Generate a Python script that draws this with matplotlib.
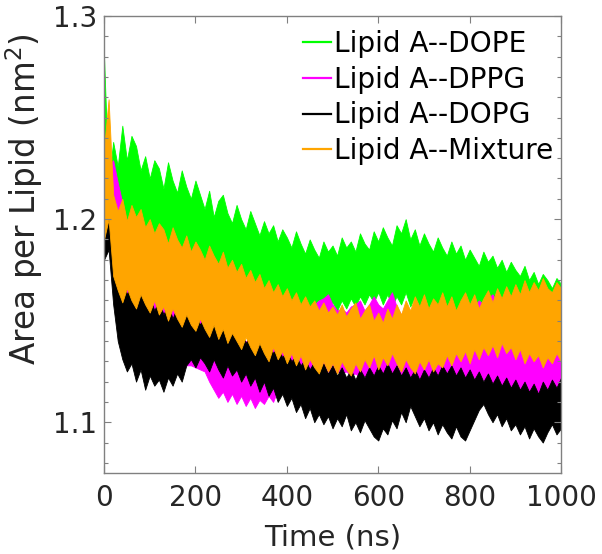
import matplotlib
matplotlib.use('Agg')
import matplotlib.pyplot as plt
from matplotlib.lines import Line2D
from matplotlib.ticker import MultipleLocator

# sampling grid of the trajectories (ns)
time_ns = list(range(0, 1001, 10))

# upper / lower edge of each noisy trace (nm^2)
dope_hi = [1.280, 1.218, 1.238, 1.226, 1.246, 1.229, 1.241, 1.236, 1.224, 1.231,
           1.220, 1.229, 1.225, 1.215, 1.228, 1.219, 1.213, 1.224, 1.216, 1.210,
           1.219, 1.212, 1.205, 1.214, 1.201, 1.209, 1.212, 1.203, 1.198, 1.207,
           1.200, 1.195, 1.204, 1.198, 1.192, 1.199, 1.193, 1.197, 1.189, 1.195,
           1.191, 1.186, 1.194, 1.188, 1.183, 1.190, 1.185, 1.181, 1.189, 1.184,
           1.187, 1.182, 1.191, 1.186, 1.189, 1.184, 1.193, 1.188, 1.185, 1.194,
           1.189, 1.196, 1.191, 1.187, 1.197, 1.193, 1.200, 1.190, 1.195, 1.187,
           1.193, 1.188, 1.184, 1.191, 1.186, 1.182, 1.189, 1.183, 1.187, 1.180,
           1.185, 1.181, 1.177, 1.184, 1.179, 1.182, 1.176, 1.180, 1.174, 1.179,
           1.175, 1.172, 1.177, 1.170, 1.174, 1.168, 1.173, 1.170, 1.166, 1.171,
           1.168]
dope_lo = [1.240, 1.195, 1.200, 1.195, 1.205, 1.198, 1.200, 1.192, 1.198, 1.190,
           1.192, 1.186, 1.190, 1.184, 1.186, 1.180, 1.184, 1.178, 1.182, 1.176,
           1.178, 1.174, 1.177, 1.171, 1.175, 1.170, 1.173, 1.168, 1.171, 1.166,
           1.169, 1.164, 1.167, 1.162, 1.166, 1.161, 1.165, 1.160, 1.163, 1.159,
           1.162, 1.158, 1.161, 1.157, 1.160, 1.156, 1.159, 1.155, 1.158, 1.156,
           1.159, 1.155, 1.160, 1.156, 1.161, 1.157, 1.162, 1.158, 1.163, 1.159,
           1.164, 1.158, 1.163, 1.157, 1.162, 1.158, 1.164, 1.157, 1.162, 1.156,
           1.160, 1.155, 1.159, 1.154, 1.158, 1.153, 1.157, 1.152, 1.156, 1.151,
           1.155, 1.151, 1.154, 1.150, 1.153, 1.149, 1.152, 1.148, 1.151, 1.147,
           1.150, 1.147, 1.150, 1.146, 1.149, 1.146, 1.149, 1.145, 1.148, 1.145,
           1.148]

dppg_hi = [1.210, 1.226, 1.229, 1.218, 1.208, 1.198, 1.190, 1.185, 1.180, 1.176,
           1.172, 1.170, 1.168, 1.165, 1.163, 1.161, 1.160, 1.158, 1.156, 1.155,
           1.153, 1.152, 1.150, 1.148, 1.147, 1.145, 1.144, 1.143, 1.142, 1.141,
           1.140, 1.140, 1.139, 1.139, 1.138, 1.138, 1.140, 1.142, 1.144, 1.146,
           1.148, 1.150, 1.152, 1.154, 1.156, 1.157, 1.158, 1.160, 1.161, 1.163,
           1.158, 1.155, 1.156, 1.154, 1.157, 1.158, 1.160, 1.155, 1.158, 1.162,
           1.158, 1.156, 1.160, 1.164, 1.157, 1.153, 1.156, 1.154, 1.155, 1.152,
           1.154, 1.153, 1.155, 1.152, 1.154, 1.153, 1.155, 1.152, 1.154, 1.153,
           1.155, 1.157, 1.160, 1.158, 1.161, 1.163, 1.159, 1.156, 1.158, 1.155,
           1.153, 1.151, 1.149, 1.148, 1.147, 1.145, 1.144, 1.143, 1.142, 1.141,
           1.140]
dppg_lo = [1.190, 1.192, 1.180, 1.168, 1.158, 1.150, 1.146, 1.142, 1.140, 1.138,
           1.136, 1.134, 1.133, 1.132, 1.131, 1.130, 1.130, 1.129, 1.128, 1.128,
           1.127, 1.126, 1.125, 1.120, 1.116, 1.112, 1.115, 1.110, 1.114, 1.109,
           1.113, 1.108, 1.112, 1.107, 1.111, 1.109, 1.113, 1.110, 1.116, 1.120,
           1.113, 1.116, 1.118, 1.120, 1.121, 1.122, 1.123, 1.124, 1.124, 1.125,
           1.124, 1.125, 1.124, 1.125, 1.123, 1.124, 1.122, 1.123, 1.121, 1.122,
           1.120, 1.121, 1.120, 1.121, 1.120, 1.120, 1.121, 1.120, 1.120, 1.121,
           1.120, 1.121, 1.120, 1.121, 1.120, 1.121, 1.120, 1.121, 1.120, 1.121,
           1.120, 1.121, 1.120, 1.121, 1.120, 1.119, 1.118, 1.117, 1.116, 1.115,
           1.114, 1.113, 1.113, 1.112, 1.112, 1.112, 1.112, 1.112, 1.113, 1.113,
           1.114]

dopg_hi = [1.200, 1.216, 1.180, 1.170, 1.172, 1.163, 1.167, 1.160, 1.165, 1.158,
           1.162, 1.155, 1.160, 1.153, 1.158, 1.151, 1.157, 1.150, 1.155, 1.149,
           1.154, 1.148, 1.152, 1.146, 1.150, 1.145, 1.148, 1.143, 1.147, 1.141,
           1.145, 1.139, 1.143, 1.137, 1.141, 1.135, 1.139, 1.134, 1.137, 1.132,
           1.135, 1.130, 1.133, 1.128, 1.131, 1.126, 1.130, 1.125, 1.129, 1.124,
           1.128, 1.123, 1.127, 1.122, 1.126, 1.121, 1.126, 1.122, 1.127, 1.123,
           1.128, 1.124, 1.129, 1.124, 1.128, 1.123, 1.127, 1.122, 1.126, 1.121,
           1.126, 1.122, 1.127, 1.123, 1.128, 1.124, 1.128, 1.123, 1.127, 1.122,
           1.126, 1.121, 1.125, 1.120, 1.124, 1.119, 1.123, 1.118, 1.122, 1.117,
           1.121, 1.116, 1.120, 1.115, 1.119, 1.114, 1.120, 1.116, 1.121, 1.117,
           1.122]
dopg_lo = [1.180, 1.185, 1.158, 1.140, 1.131, 1.125, 1.129, 1.120, 1.126, 1.116,
           1.123, 1.118, 1.121, 1.115, 1.122, 1.118, 1.124, 1.120, 1.128, 1.131,
           1.127, 1.132, 1.129, 1.125, 1.131, 1.126, 1.122, 1.128, 1.123, 1.126,
           1.120, 1.124, 1.118, 1.122, 1.115, 1.120, 1.113, 1.117, 1.110, 1.114,
           1.108, 1.112, 1.105, 1.109, 1.102, 1.107, 1.100, 1.104, 1.099, 1.103,
           1.097, 1.102, 1.098, 1.104, 1.096, 1.100, 1.095, 1.101, 1.097, 1.093,
           1.091, 1.097, 1.094, 1.101, 1.097, 1.105, 1.100, 1.108, 1.103, 1.098,
           1.102, 1.096, 1.100, 1.094, 1.099, 1.095, 1.092, 1.098, 1.093, 1.091,
           1.096, 1.101, 1.106, 1.109, 1.104, 1.100, 1.104, 1.098, 1.102, 1.096,
           1.099, 1.094, 1.098, 1.092, 1.097, 1.093, 1.090, 1.095, 1.099, 1.094,
           1.097]

mix_hi = [1.235, 1.259, 1.212, 1.204, 1.210, 1.199, 1.207, 1.201, 1.205, 1.196,
          1.200, 1.193, 1.198, 1.195, 1.188, 1.196, 1.190, 1.186, 1.192, 1.184,
          1.189, 1.185, 1.180, 1.187, 1.182, 1.178, 1.184, 1.176, 1.180, 1.174,
          1.178, 1.171, 1.175, 1.169, 1.173, 1.166, 1.170, 1.164, 1.168, 1.162,
          1.166, 1.160, 1.164, 1.158, 1.162, 1.157, 1.160, 1.155, 1.159, 1.154,
          1.157, 1.153, 1.158, 1.152, 1.156, 1.159, 1.151, 1.155, 1.158, 1.150,
          1.154, 1.149, 1.156, 1.151, 1.158, 1.153, 1.160, 1.155, 1.162, 1.157,
          1.163, 1.156, 1.161, 1.158, 1.164, 1.157, 1.162, 1.155, 1.160, 1.164,
          1.158, 1.163, 1.156, 1.161, 1.165, 1.159, 1.166, 1.161, 1.167, 1.162,
          1.168, 1.163, 1.170, 1.164, 1.169, 1.165, 1.171, 1.166, 1.164, 1.169,
          1.166]
mix_lo = [1.190, 1.200, 1.172, 1.165, 1.159, 1.166, 1.160, 1.156, 1.163, 1.158,
          1.154, 1.160, 1.153, 1.157, 1.150, 1.156, 1.151, 1.147, 1.153, 1.148,
          1.145, 1.151, 1.146, 1.142, 1.148, 1.141, 1.146, 1.139, 1.144, 1.140,
          1.136, 1.142, 1.137, 1.133, 1.139, 1.134, 1.130, 1.137, 1.131, 1.135,
          1.129, 1.134, 1.128, 1.133, 1.126, 1.131, 1.127, 1.124, 1.130, 1.125,
          1.129, 1.124, 1.130, 1.126, 1.123, 1.129, 1.125, 1.131, 1.127, 1.133,
          1.126, 1.132, 1.128, 1.134, 1.129, 1.125, 1.131, 1.127, 1.124, 1.130,
          1.126, 1.131, 1.125, 1.129, 1.127, 1.133, 1.128, 1.134, 1.130, 1.135,
          1.129, 1.136, 1.131, 1.137, 1.133, 1.138, 1.132, 1.139, 1.134, 1.137,
          1.131, 1.136, 1.129, 1.134, 1.130, 1.133, 1.127, 1.132, 1.129, 1.134,
          1.130]

labels = ['Lipid A--DOPE', 'Lipid A--DPPG', 'Lipid A--DOPG', 'Lipid A--Mixture']
colors = ['#00ff00', '#ff00ff', '#000000', '#ffa500']
bands = [(dope_lo, dope_hi), (dppg_lo, dppg_hi), (dopg_lo, dopg_hi), (mix_lo, mix_hi)]

txt = '#262626'
plt.rcParams['font.family'] = 'DejaVu Sans'

fig = plt.figure(figsize=(6.02, 5.54), dpi=100)
ax = fig.add_axes([0.1728, 0.1462, 0.7592, 0.8249])

# drawn in legend order, so the mixture ends up on top
for (lo, hi), c in zip(bands, colors):
    ax.fill_between(time_ns, lo, hi, color=c, lw=0.6)

ax.set_xlim(0, 1000)
ax.set_ylim(1.075, 1.3)
ax.set_xticks([0, 200, 400, 600, 800, 1000])
ax.set_yticks([1.1, 1.2, 1.3])
ax.yaxis.set_minor_locator(MultipleLocator(0.01))

for s in ax.spines.values():
    s.set_color('#808080')
    s.set_linewidth(1.0)
ax.tick_params(which='both', direction='in', top=True, right=True,
               colors='#808080', labelcolor=txt, labelsize=20)
ax.tick_params(which='major', length=5, width=0.8)
ax.tick_params(which='minor', length=3, width=0.8)
ax.tick_params(axis='x', pad=8)
ax.tick_params(axis='y', pad=5)

ax.set_xlabel('Time (ns)', fontsize=21, color=txt, labelpad=8)
ax.set_ylabel('Area per Lipid (nm$^2$)', fontsize=23.5, color=txt)
ax.yaxis.set_label_coords(-0.13, 0.60)

handles = [Line2D([], [], color=c, lw=1.6) for c in colors]
ax.legend(handles, labels, loc='upper left', bbox_to_anchor=(0.435, 0.97),
          frameon=False, fontsize=20.2, handlelength=1.0, handletextpad=0.1,
          labelspacing=0.28, borderpad=0, borderaxespad=0)

fig.savefig('out.png', dpi=100)
